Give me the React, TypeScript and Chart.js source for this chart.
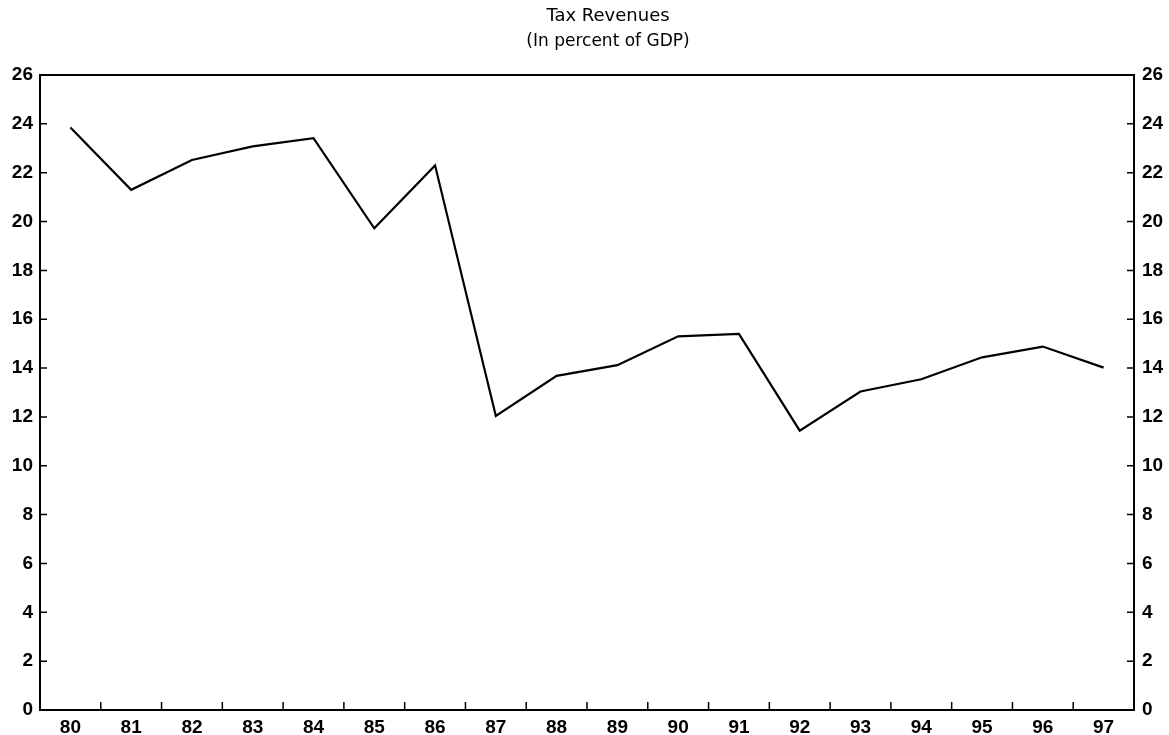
import React, { useEffect, useRef } from "react";
import { Chart, registerables } from "chart.js";

Chart.register(...registerables);

const TITLE = "Tax Revenues";
const SUBTITLE = "(In percent of GDP)";
const YEARS = ["80", "81", "82", "83", "84", "85", "86", "87", "88", "89", "90", "91", "92", "93", "94", "95", "96", "97"];
const TAX_REVENUES = [23.85, 21.3, 22.52, 23.08, 23.41, 19.72, 22.3, 12.04, 13.68, 14.12, 15.3, 15.4, 11.44, 13.04, 13.54, 14.44, 14.88, 14.02];
const Y_MIN = 0;
const Y_MAX = 26;
const Y_STEP = 2;

const FONT = "'Liberation Sans', Arial, sans-serif";

const framePlugin = {
  id: "frame",
  afterDraw(chart: any) {
    const { ctx, chartArea } = chart;
    const { left, right, top, bottom } = chartArea;
    ctx.save();
    ctx.strokeStyle = "#000";
    ctx.lineWidth = 2;
    ctx.beginPath();
    ctx.moveTo(left, top);
    ctx.lineTo(right, top);
    ctx.stroke();
    ctx.lineWidth = 1.5;
    const yl = chart.scales.y;
    for (let v = Y_MIN; v <= Y_MAX; v += Y_STEP) {
      const py = yl.getPixelForValue(v);
      ctx.beginPath();
      ctx.moveTo(left, py);
      ctx.lineTo(left + 7, py);
      ctx.moveTo(right, py);
      ctx.lineTo(right - 7, py);
      ctx.stroke();
    }
    const xs = chart.scales.x;
    for (let i = 0; i < YEARS.length - 1; i++) {
      const px = (xs.getPixelForValue(i) + xs.getPixelForValue(i + 1)) / 2;
      ctx.beginPath();
      ctx.moveTo(px, bottom);
      ctx.lineTo(px, bottom - 8);
      ctx.stroke();
    }
    ctx.fillStyle = "#000";
    ctx.textAlign = "center";
    ctx.textBaseline = "middle";
    const cx = (left + right) / 2 + 21;
    ctx.font = `18px 'DejaVu Sans', sans-serif`;
    ctx.fillText(TITLE, cx, 16);
    ctx.font = `17px 'DejaVu Sans', sans-serif`;
    ctx.fillText(SUBTITLE, cx, 42);
    ctx.restore();
  },
};

export default function App() {
  const ref = useRef<HTMLCanvasElement>(null);
  useEffect(() => {
    document.body.style.margin = "0";
    const tickFont = { family: FONT, size: 19, weight: "bold" as const };
    const chart = new Chart(ref.current!, {
      type: "line",
      data: {
        labels: YEARS,
        datasets: [
          {
            label: TITLE,
            data: TAX_REVENUES,
            borderColor: "#000",
            borderWidth: 2.2,
            pointRadius: 0,
            tension: 0,
            fill: false,
            yAxisID: "y",
          },
        ],
      },
      options: {
        animation: false,
        responsive: false,
        maintainAspectRatio: false,
        layout: { padding: { top: 75, left: 0, right: 0, bottom: 0 } },
        plugins: { legend: { display: false }, tooltip: { enabled: false }, title: { display: false } },
        scales: {
          x: {
            type: "category",
            offset: true,
            grid: { display: false, drawTicks: false },
            border: { display: true, color: "#000", width: 2 },
            ticks: { color: "#000", font: tickFont, padding: 6, maxRotation: 0, autoSkip: false },
            afterFit: (s: any) => { s.height = 25; },
          },
          y: {
            position: "left",
            min: Y_MIN,
            max: Y_MAX,
            grid: { display: false, drawTicks: false },
            border: { display: true, color: "#000", width: 2 },
            ticks: { stepSize: Y_STEP, color: "#000", font: tickFont, padding: 7 },
            afterFit: (s: any) => { s.width = 40; },
          },
          y2: {
            position: "right",
            min: Y_MIN,
            max: Y_MAX,
            grid: { display: false, drawTicks: false },
            border: { display: true, color: "#000", width: 2 },
            ticks: { stepSize: Y_STEP, color: "#000", font: tickFont, padding: 8 },
            afterFit: (s: any) => { s.width = 35; },
          },
        },
      },
      plugins: [framePlugin],
    });
    return () => chart.destroy();
  }, []);
  return (
    <div style={{ position: "fixed", left: 0, top: 0, width: 1169, height: 735, background: "#fff" }}>
      <canvas ref={ref} width={1169} height={735} style={{ width: 1169, height: 735 }} />
    </div>
  );
}
